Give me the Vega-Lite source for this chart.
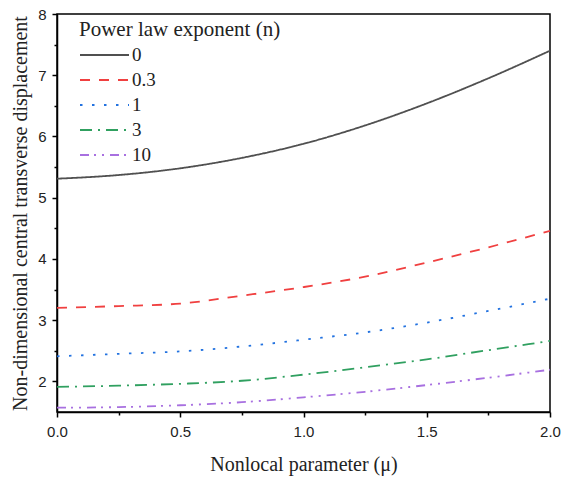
{
  "$schema": "https://vega.github.io/schema/vega-lite/v6.json",
  "width": 493,
  "height": 398,
  "autosize": "none",
  "padding": {"left": 57, "top": 14, "right": 12, "bottom": 69},
  "background": "white",
  "config": {
    "view": {"stroke": "black", "strokeWidth": 1.5},
    "axis": {
      "domainColor": "black",
      "domainWidth": 1.5,
      "tickColor": "black",
      "tickWidth": 1.5,
      "grid": false,
      "labelFlush": false,
      "labelFont": "Liberation Sans",
      "labelFontSize": 15,
      "labelColor": "#222",
      "titleFont": "Liberation Serif",
      "titleFontSize": 20,
      "titleFontWeight": "normal",
      "titleColor": "#222"
    },
    "legend": {
      "titleFont": "Liberation Serif",
      "titleFontSize": 21,
      "titleFontWeight": "normal",
      "titleColor": "#222",
      "titleLimit": 400,
      "labelFont": "Liberation Serif",
      "labelFontSize": 19,
      "labelColor": "#222"
    }
  },
  "data": {
    "values": [
      {"mu": 0.0, "v": 5.31, "n": "0"},
      {"mu": 0.25, "v": 5.37, "n": "0"},
      {"mu": 0.5, "v": 5.48, "n": "0"},
      {"mu": 0.75, "v": 5.65, "n": "0"},
      {"mu": 1.0, "v": 5.88, "n": "0"},
      {"mu": 1.25, "v": 6.18, "n": "0"},
      {"mu": 1.5, "v": 6.54, "n": "0"},
      {"mu": 1.75, "v": 6.95, "n": "0"},
      {"mu": 2.0, "v": 7.40, "n": "0"},
      {"mu": 0.0, "v": 3.20, "n": "0.3"},
      {"mu": 0.25, "v": 3.23, "n": "0.3"},
      {"mu": 0.5, "v": 3.27, "n": "0.3"},
      {"mu": 0.75, "v": 3.40, "n": "0.3"},
      {"mu": 1.0, "v": 3.54, "n": "0.3"},
      {"mu": 1.25, "v": 3.71, "n": "0.3"},
      {"mu": 1.5, "v": 3.94, "n": "0.3"},
      {"mu": 1.75, "v": 4.19, "n": "0.3"},
      {"mu": 2.0, "v": 4.46, "n": "0.3"},
      {"mu": 0.0, "v": 2.41, "n": "1"},
      {"mu": 0.25, "v": 2.45, "n": "1"},
      {"mu": 0.5, "v": 2.49, "n": "1"},
      {"mu": 0.75, "v": 2.57, "n": "1"},
      {"mu": 1.0, "v": 2.68, "n": "1"},
      {"mu": 1.25, "v": 2.80, "n": "1"},
      {"mu": 1.5, "v": 2.96, "n": "1"},
      {"mu": 1.75, "v": 3.15, "n": "1"},
      {"mu": 2.0, "v": 3.35, "n": "1"},
      {"mu": 0.0, "v": 1.91, "n": "3"},
      {"mu": 0.25, "v": 1.93, "n": "3"},
      {"mu": 0.5, "v": 1.96, "n": "3"},
      {"mu": 0.75, "v": 2.01, "n": "3"},
      {"mu": 1.0, "v": 2.11, "n": "3"},
      {"mu": 1.25, "v": 2.23, "n": "3"},
      {"mu": 1.5, "v": 2.36, "n": "3"},
      {"mu": 1.75, "v": 2.51, "n": "3"},
      {"mu": 2.0, "v": 2.66, "n": "3"},
      {"mu": 0.0, "v": 1.57, "n": "10"},
      {"mu": 0.25, "v": 1.58, "n": "10"},
      {"mu": 0.5, "v": 1.61, "n": "10"},
      {"mu": 0.75, "v": 1.66, "n": "10"},
      {"mu": 1.0, "v": 1.74, "n": "10"},
      {"mu": 1.25, "v": 1.83, "n": "10"},
      {"mu": 1.5, "v": 1.94, "n": "10"},
      {"mu": 1.75, "v": 2.06, "n": "10"},
      {"mu": 2.0, "v": 2.19, "n": "10"}
    ]
  },
  "mark": {"type": "line", "interpolate": "monotone", "strokeWidth": 1.8},
  "encoding": {
    "x": {
      "field": "mu",
      "type": "quantitative",
      "scale": {"domain": [0, 2], "nice": false, "zero": false},
      "axis": {
        "title": "Nonlocal parameter (μ)",
        "values": [0, 0.25, 0.5, 0.75, 1, 1.25, 1.5, 1.75, 2],
        "labelExpr": "datum.value * 2 % 1 === 0 ? format(datum.value, '.1f') : ''",
        "tickSize": {"condition": {"test": "datum.value * 2 % 1 === 0", "value": 5}, "value": 3},
        "labelPadding": 7,
        "titlePadding": 15
      }
    },
    "y": {
      "field": "v",
      "type": "quantitative",
      "scale": {"domain": [1.5, 8], "nice": false, "zero": false},
      "axis": {
        "title": "Non-dimensional central transverse displacement",
        "values": [2, 2.5, 3, 3.5, 4, 4.5, 5, 5.5, 6, 6.5, 7, 7.5, 8],
        "labelExpr": "datum.value % 1 === 0 ? format(datum.value, 'd') : ''",
        "tickSize": {"condition": {"test": "datum.value % 1 === 0", "value": 5}, "value": 3},
        "labelPadding": 6,
        "titlePadding": 7
      }
    },
    "color": {
      "field": "n",
      "type": "nominal",
      "sort": ["0", "0.3", "1", "3", "10"],
      "scale": {
        "domain": ["0", "0.3", "1", "3", "10"],
        "range": ["#505050", "#f04040", "#2272e0", "#30a060", "#a870e0"]
      },
      "legend": {
        "title": "Power law exponent (n)",
        "orient": "none",
        "legendX": 22,
        "legendY": 5,
        "symbolType": "M -1 0 L 3.9 0",
        "symbolSize": 400,
        "symbolStrokeWidth": 1.8,
        "symbolFillColor": "transparent",
        "labelOffset": 31,
        "rowPadding": 4,
        "titlePadding": 4
      }
    },
    "strokeDash": {
      "field": "n",
      "type": "nominal",
      "sort": ["0", "0.3", "1", "3", "10"],
      "scale": {
        "domain": ["0", "0.3", "1", "3", "10"],
        "range": [[1, 0], [10, 9], [2.5, 9.5], [12, 6, 2, 6], [9, 5, 2, 6, 2, 6]]
      },
      "legend": null
    }
  }
}
